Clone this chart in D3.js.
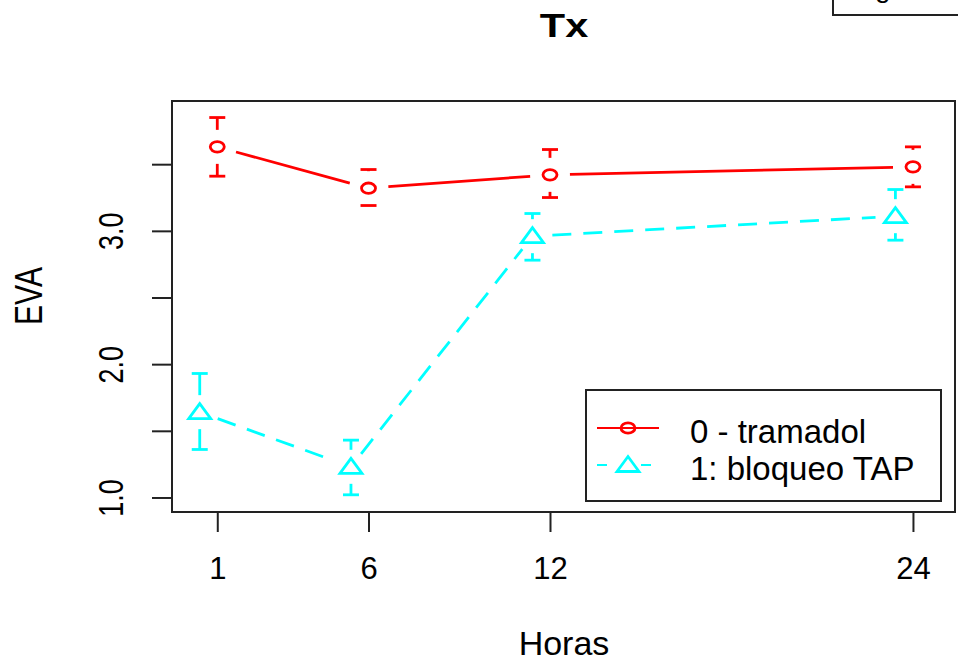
<!DOCTYPE html>
<html>
    <head>
        <title>Tx</title>
        <meta charset="UTF-8">
        <script src="https://cdn.jsdelivr.net/npm/d3@7"></script>
        <style>
body { margin: 0; background: #fff; }
text { font-family: "Liberation Sans", Arial, sans-serif; fill: #000; }
        </style>
    </head>
	<body>
		<script>
// data
var horas = [1, 6, 12, 24];
var horasLabels = ["1", "6", "12", "24"];
var grupos = ["0 - tramadol", "1: bloqueo TAP"];
var tramadolMedia = [3.63, 3.32, 3.42, 3.48];
var tramadolInf = [3.41, 3.19, 3.25, 3.33];
var tramadolSup = [3.85, 3.46, 3.61, 3.63];
var tapMedia = [1.64, 1.23, 2.96, 3.11];
var tapInf = [1.36, 1.02, 2.78, 2.93];
var tapSup = [1.93, 1.43, 3.13, 3.31];
var yTicks = [1.0, 1.5, 2.0, 2.5, 3.0, 3.5];
var yTickLabels = ["1.0", "", "2.0", "", "3.0", ""];

var W = 958, H = 663;
// plot box (window.top is taken, so no plain "top")
var pl = 172, pr = 955, pt = 101, pb = 512;
var svg, x, y;

function create_svg(){
    svg = d3.select("body")
                .append("svg")
                .attr("width", W)
                .attr("height", H);
    return svg;
}

function create_scales(){
    x = d3.scaleLinear().domain([-0.497, 25.39]).range([pl, pr]);
    y = d3.scaleLinear().domain([0.891, 3.974]).range([pb, pt]);
}

function draw_axes(){
    var xa = svg.append("g")
        .attr("transform", "translate(0," + pb + ")")
        .call(d3.axisBottom(x).tickValues(horas).tickSize(20)
              .tickFormat(function(d, i){ return horasLabels[i]; }));
    xa.select(".domain").remove();
    xa.selectAll(".tick line").attr("stroke", "#222").attr("stroke-width", 2);
    xa.selectAll(".tick text")
        .attr("y", 67).attr("dy", null)
        .style("font-size", "31px");

    // the picture's rotated text is wider across than tall, hence the scale
    var ya = svg.append("g")
        .attr("transform", "translate(" + pl + ",0)")
        .call(d3.axisLeft(y).tickValues(yTicks).tickSize(20)
              .tickFormat(function(d, i){ return yTickLabels[i]; }));
    ya.select(".domain").remove();
    ya.selectAll(".tick line").attr("stroke", "#222").attr("stroke-width", 2);
    ya.selectAll(".tick text")
        .attr("x", 0).attr("y", -49 / 1.3).attr("dy", null)
        .attr("transform", "rotate(-90) scale(1,1.3)")
        .attr("text-anchor", "middle")
        .style("font-size", "27px");

    svg.append("rect")
        .attr("x", pl).attr("y", pt)
        .attr("width", pr - pl).attr("height", pb - pt)
        .attr("fill", "none").attr("stroke", "#222").attr("stroke-width", 2);

    svg.append("text")
        .attr("transform", "translate(564,37) scale(1.22,1)")
        .attr("text-anchor", "middle")
        .style("font-size", "34px").style("font-weight", "bold")
        .text("Tx");
    svg.append("text")
        .attr("x", 564).attr("y", 655)
        .attr("text-anchor", "middle")
        .style("font-size", "34px")
        .text("Horas");
    svg.append("text")
        .attr("transform", "translate(42,296) rotate(-90) scale(1,1.3)")
        .attr("text-anchor", "middle")
        .style("font-size", "30px")
        .text("EVA");
}

// segments between points, leaving a gap round each marker (like type = "b")
function draw_line(xs, ys, color, dash){
    var gap = 15, sx = 1.33;
    for(var i = 0; i < xs.length - 1; i++){
        var x1 = x(xs[i]), y1 = y(ys[i]), x2 = x(xs[i + 1]), y2 = y(ys[i + 1]);
        var len = Math.sqrt(Math.pow((x2 - x1) / sx, 2) + Math.pow(y2 - y1, 2));
        var t = gap / len;
        svg.append("line")
            .attr("x1", x1 + (x2 - x1) * t).attr("y1", y1 + (y2 - y1) * t)
            .attr("x2", x2 - (x2 - x1) * t).attr("y2", y2 - (y2 - y1) * t)
            .attr("stroke", color).attr("stroke-width", 2.8)
            .attr("stroke-dasharray", dash);
    }
}

function draw_errors(xs, media, inf, sup, color){
    var gap = 17, cap = 8;
    for(var i = 0; i < xs.length; i++){
        var cx = x(xs[i]), cy = y(media[i]);
        var yt = y(sup[i]), yb = y(inf[i]);
        if(cy - yt > gap){
            svg.append("line").attr("x1", cx).attr("x2", cx)
                .attr("y1", yt).attr("y2", cy - gap)
                .attr("stroke", color).attr("stroke-width", 2.8);
        }
        if(yb - cy > gap){
            svg.append("line").attr("x1", cx).attr("x2", cx)
                .attr("y1", cy + gap).attr("y2", yb)
                .attr("stroke", color).attr("stroke-width", 2.8);
        }
        [yt, yb].forEach(function(yy){
            svg.append("line").attr("x1", cx - cap).attr("x2", cx + cap)
                .attr("y1", yy).attr("y2", yy)
                .attr("stroke", color).attr("stroke-width", 2.8);
        });
    }
}

function circle_mark(g, cx, cy, color){
    g.append("ellipse")
        .attr("cx", cx).attr("cy", cy).attr("rx", 7).attr("ry", 5.2)
        .attr("fill", "none").attr("stroke", color).attr("stroke-width", 2.8);
}

function triangle_mark(g, cx, cy, color){
    var p = [[cx, cy - 8.5], [cx - 11, cy + 6.5], [cx + 11, cy + 6.5]];
    g.append("polygon")
        .attr("points", p.map(function(d){ return d.join(","); }).join(" "))
        .attr("fill", "none").attr("stroke", color).attr("stroke-width", 2.8);
}

function draw_series(){
    var dodge = -0.58;
    var xsRed = horas.map(function(d){ return d; });
    var xsCyan = horas.map(function(d){ return d + dodge; });

    draw_line(xsRed, tramadolMedia, "#ff0000", null);
    draw_line(xsCyan, tapMedia, "#00ffff", "19,12");

    draw_errors(xsRed, tramadolMedia, tramadolInf, tramadolSup, "#ff0000");
    draw_errors(xsCyan, tapMedia, tapInf, tapSup, "#00ffff");

    xsRed.forEach(function(d, i){ circle_mark(svg, x(d), y(tramadolMedia[i]), "#ff0000"); });
    xsCyan.forEach(function(d, i){ triangle_mark(svg, x(d), y(tapMedia[i]), "#00ffff"); });
}

function draw_legend(){
    var g = svg.append("g");
    g.append("rect")
        .attr("x", 586).attr("y", 390).attr("width", 355).attr("height", 111)
        .attr("fill", "#fff").attr("stroke", "#222").attr("stroke-width", 2);
    var rows = [428, 465];
    var colors = ["#ff0000", "#00ffff"];
    var dashes = [null, "10,12"];
    grupos.forEach(function(name, i){
        g.append("line")
            .attr("x1", 597).attr("x2", 659).attr("y1", rows[i]).attr("y2", rows[i])
            .attr("stroke", colors[i]).attr("stroke-width", 2)
            .attr("stroke-dasharray", dashes[i]);
        if(i == 0){
            circle_mark(g, 628, rows[i], colors[i]);
        }else{
            g.append("rect").attr("x", 615).attr("y", rows[i] - 10)
                .attr("width", 26).attr("height", 17).attr("fill", "#fff");
            triangle_mark(g, 628, rows[i], colors[i]);
        }
        g.append("text")
            .attr("x", 690).attr("y", rows[i] + 15)
            .style("font-size", "33px")
            .text(name);
    });
}

function draw_corner(){
    // a box cut off by the top edge of the picture
    svg.append("rect")
        .attr("x", 833).attr("y", -40).attr("width", 200).attr("height", 55)
        .attr("fill", "#fff").attr("stroke", "#222").attr("stroke-width", 2);
    svg.append("text")
        .attr("x", 875).attr("y", -3)
        .style("font-size", "28px")
        .text("g");
}

window.onload = function(){
    create_svg();
    create_scales();
    draw_axes();
    draw_series();
    draw_legend();
    draw_corner();
};
		</script>
	</body>
</html>
